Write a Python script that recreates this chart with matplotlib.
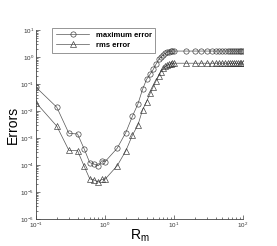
import matplotlib
matplotlib.use("Agg")
import matplotlib.pyplot as plt
from matplotlib.ticker import LogLocator, NullFormatter

plt.rcParams["font.family"] = ["Liberation Sans", "DejaVu Sans"]
plt.rcParams["mathtext.fontset"] = "custom"
plt.rcParams["mathtext.rm"] = "Liberation Sans"
plt.rcParams["mathtext.it"] = "Liberation Sans:italic"

# R_m sample points
rm_left = [0.1, 0.2, 0.3, 0.4, 0.5, 0.6, 0.7, 0.8, 0.9, 1.0]
rm_mid = [1.5, 2.0, 2.5, 3.0, 3.5, 4.0, 4.5, 5.0, 5.5, 6.0, 6.5, 7.0, 7.5, 8.0, 8.5, 9.0, 9.5]
rm_right = [10, 15, 20, 25, 30, 35, 40, 45, 50, 55, 60, 65, 70, 75, 80, 85, 90, 95, 100]
rm = rm_left + rm_mid + rm_right

# log10 of maximum error
log_max = [-1.12, -1.86, -2.83, -2.85, -3.41, -3.91, -3.97, -4.03, -3.84, -3.88,
           -3.38, -2.80, -2.19, -1.74, -1.20, -0.83, -0.64, -0.46, -0.26, -0.09,
           0.00, 0.08, 0.14, 0.18, 0.20, 0.21, 0.22,
           0.22, 0.22, 0.22, 0.22, 0.22, 0.22, 0.22, 0.22, 0.22, 0.22,
           0.22, 0.22, 0.22, 0.22, 0.22, 0.22, 0.22, 0.22, 0.22]
# log10 of rms error
log_rms = [-1.69, -2.56, -3.46, -3.47, -4.05, -4.51, -4.56, -4.63, -4.53, -4.53,
           -4.03, -3.48, -2.89, -2.52, -1.96, -1.65, -1.35, -1.10, -0.88, -0.70,
           -0.54, -0.42, -0.35, -0.30, -0.27, -0.25, -0.24,
           -0.23, -0.23, -0.23, -0.23, -0.23, -0.23, -0.23, -0.23, -0.23, -0.23,
           -0.23, -0.23, -0.23, -0.23, -0.23, -0.23, -0.23, -0.23, -0.23]

max_err = [10 ** v for v in log_max]
rms_err = [10 ** v for v in log_rms]

fig = plt.figure(figsize=(2.77, 2.46), dpi=100)
ax = fig.add_axes([36 / 277, 1 - 219 / 246, (243 - 36) / 277, (219 - 30) / 246])

line_kw = dict(color="#555555", lw=0.5, mfc="none", mec="#333333", mew=0.45, ms=3.8)
ax.plot(rm, max_err, marker="o", label="maximum error", **line_kw)
ax.plot(rm, rms_err, marker="^", label="rms error", **line_kw)

ax.set_xscale("log")
ax.set_yscale("log")
ax.set_xlim(0.1, 100)
ax.set_ylim(1e-6, 1e1)

for s in ["top", "right"]:
    ax.spines[s].set_visible(False)
for s in ["left", "bottom"]:
    ax.spines[s].set_color("#444444")
    ax.spines[s].set_linewidth(0.6)

ax.xaxis.set_major_locator(LogLocator(base=10, numticks=10))
ax.yaxis.set_major_locator(LogLocator(base=10, numticks=10))
ax.xaxis.set_minor_locator(LogLocator(base=10, subs=range(2, 10), numticks=10))
ax.yaxis.set_minor_locator(LogLocator(base=10, subs=range(2, 10), numticks=10))
ax.xaxis.set_minor_formatter(NullFormatter())
ax.yaxis.set_minor_formatter(NullFormatter())

ax.tick_params(which="both", direction="in", color="#444444", width=0.5,
               labelsize=4.5, pad=1.5, top=False, right=False, labelcolor="#333333")
ax.tick_params(which="major", length=3)
ax.tick_params(which="minor", length=1.5)

ax.set_xlabel(r"R$_\mathrm{m}$", fontsize=10, labelpad=-2)
ax.set_ylabel("Errors", fontsize=10, labelpad=0)

leg = ax.legend(loc="upper left", bbox_to_anchor=(16 / 207, 1.011),
                bbox_transform=ax.transAxes, borderaxespad=0,
                prop={"family": "Liberation Sans", "weight": "bold", "size": 5.5},
                frameon=True, fancybox=False,
                edgecolor="#666666", handlelength=4.4, borderpad=0.5,
                labelspacing=0.3, handletextpad=0.8)
leg.get_frame().set_linewidth(0.6)

fig.savefig("out.png", dpi=100)
